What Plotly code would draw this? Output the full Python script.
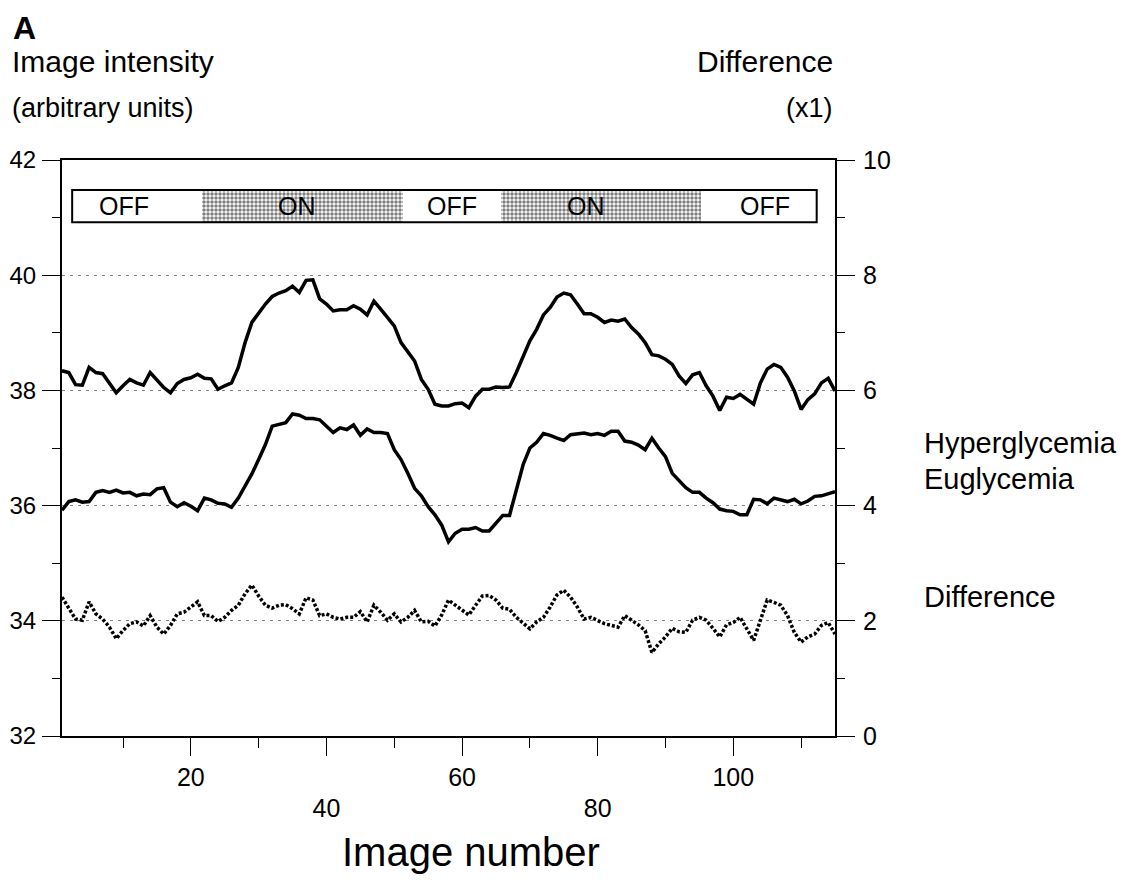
import plotly.graph_objects as go

# ---------------- data ----------------
image_number = list(range(1, 116))

hyperglycemia = [
    38.34, 38.31, 38.10, 38.09, 38.40, 38.31, 38.29, 38.12, 37.96, 38.08,
    38.19, 38.13, 38.09, 38.31, 38.19, 38.05, 37.96, 38.12, 38.19, 38.22,
    38.28, 38.21, 38.20, 38.02, 38.08, 38.13, 38.40, 38.83, 39.18, 39.35,
    39.50, 39.63, 39.69, 39.73, 39.81, 39.70, 39.91, 39.92, 39.59, 39.50,
    39.38, 39.40, 39.40, 39.47, 39.41, 39.31, 39.55, 39.41, 39.27, 39.12,
    38.83, 38.66, 38.51, 38.19, 38.02, 37.76, 37.73, 37.73, 37.77, 37.78,
    37.70, 37.90, 38.02, 38.02, 38.06, 38.05, 38.06, 38.31, 38.60, 38.86,
    39.06, 39.31, 39.44, 39.62, 39.69, 39.66, 39.50, 39.33, 39.33, 39.27,
    39.18, 39.22, 39.20, 39.24, 39.09, 38.98, 38.83, 38.62, 38.60, 38.54,
    38.45, 38.25, 38.12, 38.27, 38.31, 38.08, 37.90, 37.65, 37.88, 37.86,
    37.93, 37.84, 37.76, 38.13, 38.37, 38.45, 38.40, 38.23, 37.99, 37.67,
    37.84, 37.94, 38.13, 38.21, 37.99,
]

euglycemia = [
    35.92, 36.07, 36.10, 36.06, 36.07, 36.23, 36.26, 36.23, 36.27, 36.22,
    36.23, 36.17, 36.20, 36.19, 36.29, 36.31, 36.06, 35.98, 36.05, 35.99,
    35.91, 36.13, 36.10, 36.04, 36.03, 35.97, 36.13, 36.33, 36.55, 36.80,
    37.06, 37.38, 37.41, 37.44, 37.59, 37.57, 37.51, 37.51, 37.49, 37.38,
    37.27, 37.35, 37.32, 37.40, 37.22, 37.33, 37.27, 37.27, 37.25, 36.97,
    36.80, 36.56, 36.30, 36.17, 35.98, 35.84, 35.66, 35.37, 35.52, 35.59,
    35.59, 35.62, 35.56, 35.56, 35.69, 35.83, 35.83, 36.30, 36.71, 37.00,
    37.10, 37.25, 37.22, 37.17, 37.13, 37.23, 37.24, 37.26, 37.23, 37.25,
    37.22, 37.29, 37.29, 37.12, 37.10, 37.05, 36.97, 37.17, 37.00, 36.85,
    36.56, 36.43, 36.31, 36.23, 36.23, 36.13, 36.05, 35.94, 35.91, 35.90,
    35.84, 35.84, 36.11, 36.10, 36.03, 36.13, 36.10, 36.07, 36.11, 36.03,
    36.08, 36.16, 36.17, 36.20, 36.24,
]

# difference (x1), read on the right-hand axis
difference = [
    2.41, 2.21, 2.03, 2.01, 2.33, 2.12, 2.03, 1.89, 1.69, 1.83,
    1.95, 1.98, 1.91, 2.09, 1.89, 1.77, 1.92, 2.12, 2.15, 2.24,
    2.33, 2.09, 2.09, 1.99, 2.06, 2.18, 2.27, 2.47, 2.62, 2.43,
    2.27, 2.22, 2.27, 2.28, 2.21, 2.12, 2.40, 2.36, 2.09, 2.12,
    2.06, 2.03, 2.06, 2.06, 2.16, 1.98, 2.27, 2.15, 2.01, 2.12,
    1.98, 2.06, 2.18, 1.98, 1.99, 1.91, 2.10, 2.36, 2.27, 2.19,
    2.10, 2.27, 2.43, 2.44, 2.36, 2.22, 2.20, 2.06, 1.95, 1.86,
    1.98, 2.06, 2.24, 2.45, 2.53, 2.41, 2.24, 2.03, 2.06, 2.01,
    1.95, 1.92, 1.89, 2.09, 2.01, 1.93, 1.83, 1.45, 1.60, 1.72,
    1.87, 1.81, 1.80, 2.01, 2.06, 2.01, 1.87, 1.72, 1.93, 1.97,
    2.06, 1.86, 1.66, 2.01, 2.36, 2.32, 2.27, 2.09, 1.80, 1.63,
    1.72, 1.77, 1.92, 1.97, 1.77,
]

# stimulus protocol bar
stim_box = [2.5, 112.3]          # image-number extent of the protocol box
stim_y = [40.92, 41.48]          # intensity extent of the protocol box
on_start = [21.6, 65.8]
on_end = [51.3, 95.2]
stim_labels = ["OFF", "ON", "OFF", "ON", "OFF"]
stim_label_x = [10.1, 35.6, 58.5, 78.3, 104.7]

x_range = [1, 115]
left_range = [32, 42]
right_range = [0, 10]
x_major = [20, 40, 60, 80, 100]
x_row1 = ["20", "", "60", "", "100"]
x_row2_vals = [40, 80]

# ---------------- layout geometry ----------------
# The page body has an 8 px margin, so the figure is drawn 8 px in from
# the window's top-left corner; all page positions below are corrected.
OFF = 8
W, H = 1139 - 2 * OFF, 892 - 2 * OFF
L, T = 62 - OFF, 160 - OFF
PW, PH = 773, 576
R, B = W - L - PW, H - T - PH


def px_x(px):
    return (px - OFF - L) / PW


def px_y(py):
    return (H - B - (py - OFF)) / PH


FONT = "Liberation Sans, Arial, sans-serif"

fig = go.Figure()

# stippled ON periods
fig.add_trace(go.Bar(
    x=[(s + e) / 2 for s, e in zip(on_start, on_end)],
    width=[e - s for s, e in zip(on_start, on_end)],
    base=[stim_y[0]] * len(on_start),
    y=[stim_y[1] - stim_y[0]] * len(on_start),
    marker=dict(color="white", line=dict(width=0),
                pattern=dict(shape=".", fgcolor="black", bgcolor="white",
                             size=4, solidity=0.6)),
    hoverinfo="skip", showlegend=False,
))

fig.add_trace(go.Scatter(
    x=image_number, y=hyperglycemia, mode="lines",
    line=dict(color="black", width=3.5), showlegend=False,
))
fig.add_trace(go.Scatter(
    x=image_number, y=euglycemia, mode="lines",
    line=dict(color="black", width=3.5), showlegend=False,
))
fig.add_trace(go.Scatter(
    x=image_number, y=difference, mode="lines", yaxis="y2",
    line=dict(color="black", width=3.5, dash="3px,2px"), showlegend=False,
))
# carrier for the second row of x tick labels
fig.add_trace(go.Scatter(
    x=x_range, y=[37, 37], xaxis="x2", mode="lines",
    line=dict(width=0), opacity=0, hoverinfo="skip", showlegend=False,
))

# protocol box outline
fig.add_shape(type="rect", xref="x", yref="y",
              x0=stim_box[0], x1=stim_box[1], y0=stim_y[0], y1=stim_y[1],
              line=dict(color="black", width=2), layer="above")

annotations = []
for lab, xv in zip(stim_labels, stim_label_x):
    annotations.append(dict(x=xv, y=sum(stim_y) / 2, xref="x", yref="y",
                            text=lab, showarrow=False,
                            font=dict(size=25, color="black")))


def ann(text, px, py, size, xanchor="left", bold=False):
    annotations.append(dict(
        x=px_x(px), y=px_y(py), xref="paper", yref="paper",
        text=f"<b>{text}</b>" if bold else text, showarrow=False,
        xanchor=xanchor, yanchor="middle",
        font=dict(size=size, color="black")))


ann("A", 11, 28, 32, bold=True)
ann("Image intensity", 10, 61.5, 30)
ann("(arbitrary units)", 10, 107.5, 27)
ann("Difference", 835, 61.5, 30, xanchor="right")
ann("(x1)", 835, 107.5, 27, xanchor="right")
ann("Hyperglycemia", 922, 443, 29)
ann("Euglycemia", 922, 478.5, 29)
ann("Difference", 922, 596.5, 29)
ann("Image number", 471, 852, 40, xanchor="center")

axis_common = dict(color="black", linecolor="black", linewidth=2,
                   tickcolor="black", tickwidth=1, zeroline=False,
                   automargin=False,
                   tickfont=dict(size=25, color="black"))

fig.update_layout(
    width=W, height=H,
    margin=dict(l=L, r=R, t=T, b=B, pad=0, autoexpand=False),
    paper_bgcolor="white", plot_bgcolor="white",
    font=dict(family=FONT, color="black"),
    bargap=0,
    annotations=annotations,
    xaxis=dict(
        range=x_range, showgrid=False, showline=True, mirror=True,
        ticks="outside", ticklen=18, tickmode="array",
        tickvals=x_major, ticktext=x_row1, ticklabelstandoff=0,
        minor=dict(ticks="outside", ticklen=10, dtick=10, tick0=0,
                   tickcolor="black", tickwidth=1, showgrid=False),
        **axis_common,
    ),
    xaxis2=dict(
        range=x_range, overlaying="x", anchor="y", side="bottom",
        showgrid=False, showline=False, ticks="", tickmode="array",
        tickvals=x_row2_vals, ticktext=[str(v) for v in x_row2_vals],
        ticklabelstandoff=55, zeroline=False, automargin=False,
        tickfont=dict(size=25, color="black"),
    ),
    yaxis=dict(
        range=left_range, tickmode="linear", tick0=32, dtick=2,
        ticks="outside", ticklen=18, showline=True,
        showgrid=True, gridcolor="#808080", gridwidth=1, griddash="3px,5px",
        ticklabelstandoff=1,
        minor=dict(ticks="outside", ticklen=8, dtick=1, tick0=32,
                   tickcolor="black", tickwidth=1, showgrid=False),
        **{**axis_common, "tickfont": dict(size=24, color="black")},
    ),
    yaxis2=dict(
        range=right_range, overlaying="y", side="right", anchor="x",
        tickmode="linear", tick0=0, dtick=2,
        ticks="outside", ticklen=18, showline=True, showgrid=False,
        ticklabelstandoff=3,
        minor=dict(ticks="outside", ticklen=8, dtick=1, tick0=0,
                   tickcolor="black", tickwidth=1, showgrid=False),
        **axis_common,
    ),
)

fig.write_html("out.html")
